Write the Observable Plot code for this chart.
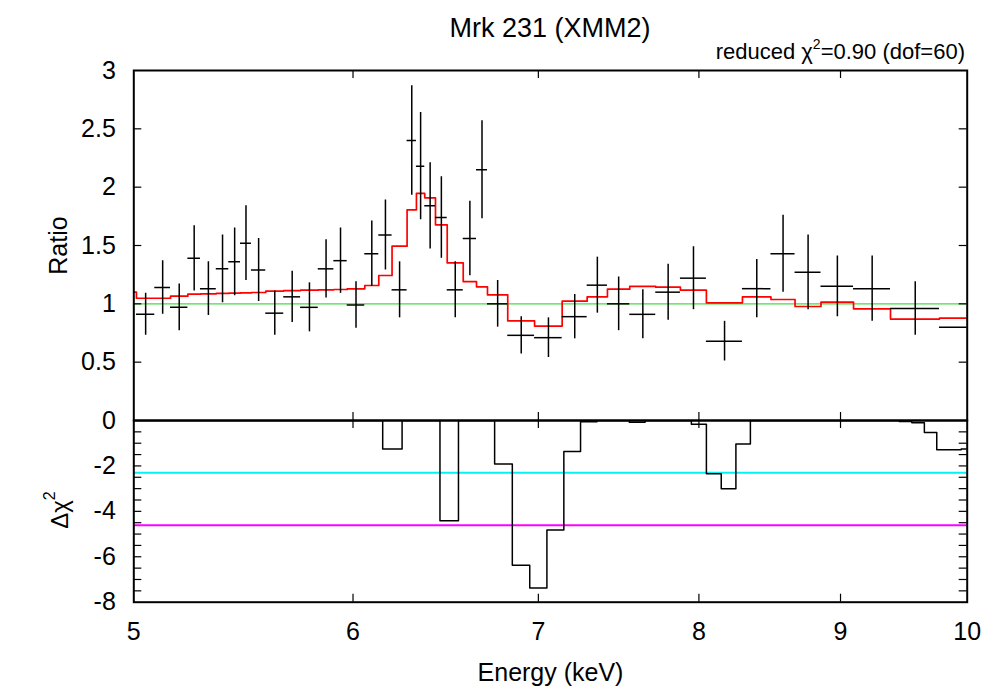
<!DOCTYPE html>
<html>
<head>
<meta charset="utf-8">
<script src="https://cdn.jsdelivr.net/npm/d3@7"></script>
<script src="https://cdn.jsdelivr.net/npm/@observablehq/plot@0.6"></script>
<style>
  body { margin: 0; background: #fff; }
  #wrap { position: relative; width: 1000px; height: 700px; overflow: hidden; background: #fff;
          font-family: "Liberation Sans", Arial, Helvetica, sans-serif; color: #000; }
  #wrap svg { position: absolute; left: 0; }
  #title { position: absolute; left: 0; width: 1100px; top: 14.5px; text-align: center;
           font-size: 27px; line-height: 27px; white-space: nowrap; }
  #chi { position: absolute; right: 35px; top: 41px; font-size: 22px; line-height: 22px; white-space: nowrap; }
  #chi sup { font-size: 14px; line-height: 0; vertical-align: 10px; }
  #dchiLabel sup { font-size: 16px; line-height: 0; vertical-align: 13px; }
  #dchiLabel { position: absolute; left: 20px; top: 498px; width: 80px; height: 24px;
               font-size: 24px; line-height: 24px; text-align: center; transform: rotate(-90deg); white-space: nowrap; }
</style>
</head>
<body>
<div id="wrap">
  <div id="title">Mrk 231 (XMM2)</div>
  <div id="chi">reduced χ<sup>2</sup>=0.90 (dof=60)</div>
  <div id="dchiLabel">Δχ<sup>2</sup></div>
</div>
<script>
// ---------- data ----------
// spectral bin edges (keV); bin 0 lies just below 5 keV (model only)
const binEdges = [4.97, 5.011, 5.088, 5.155, 5.230, 5.285, 5.355, 5.411, 5.464, 5.514, 5.580,
  5.664, 5.744, 5.829, 5.905, 5.971, 6.059, 6.130, 6.198, 6.276, 6.325, 6.369, 6.426, 6.489,
  6.576, 6.649, 6.710, 6.824, 6.978, 7.140, 7.290, 7.414, 7.553, 7.718, 7.878, 8.050, 8.295,
  8.494, 8.666, 8.855, 9.098, 9.382, 9.772, 10.30];
// data/model ratio per bin (null = no data point shown)
const ratio = [null, 0.91, 1.14, 0.97, 1.39, 1.13, 1.30, 1.36, 1.52, 1.29, 0.92, 1.06, 0.97,
  1.30, 1.37, 0.99, 1.43, 1.59, 1.12, 2.40, 2.18, 1.84, 1.74, 1.12, 1.56, 2.15, 1.00, 0.73,
  0.71, 0.89, 1.16, 1.00, 0.91, 1.10, 1.22, 0.68, 1.13, 1.43, 1.27, 1.15, 1.13, 0.96, 0.80];
const ratioErr = [null, 0.18, 0.23, 0.20, 0.28, 0.23, 0.29, 0.29, 0.32, 0.27, 0.19, 0.22, 0.21,
  0.25, 0.28, 0.20, 0.28, 0.30, 0.24, 0.47, 0.46, 0.37, 0.35, 0.24, 0.32, 0.42, 0.20, 0.16,
  0.17, 0.19, 0.24, 0.23, 0.21, 0.24, 0.27, 0.17, 0.25, 0.33, 0.32, 0.26, 0.28, 0.23, 0.20];
// model (line) ratio per bin
const model = [1.10, 1.048, 1.048, 1.066, 1.083, 1.086, 1.089, 1.091, 1.094, 1.097, 1.109, 1.114,
  1.117, 1.120, 1.123, 1.129, 1.157, 1.243, 1.494, 1.806, 1.946, 1.909, 1.677, 1.351, 1.191,
  1.146, 1.077, 0.854, 0.809, 1.023, 1.060, 1.126, 1.149, 1.143, 1.117, 1.009, 1.060, 1.037,
  0.977, 1.014, 0.957, 0.869, 0.877];

// delta chi-square scan (0.1 keV steps)
const scanE = [5.0, 5.1, 5.2, 5.3, 5.4, 5.5, 5.6, 5.7, 5.8, 5.9, 6.0, 6.1, 6.2, 6.3, 6.4, 6.5,
  6.6, 6.7, 6.8, 6.9, 7.0, 7.1, 7.2, 7.3, 7.4, 7.5, 7.6, 7.7, 7.8, 7.9, 8.0, 8.1, 8.2, 8.3, 8.4,
  8.5, 8.6, 8.7, 8.8, 8.9, 9.0, 9.1, 9.2, 9.3, 9.4, 9.5, 9.6, 9.7, 9.8, 9.9, 10.0];
const dchi = [0, 0, 0, 0, 0, 0, 0, 0, 0, 0, 0, 0, -1.25, 0, 0, -4.41, 0, 0, -1.92, -6.37, -7.37,
  -4.82, -1.37, -0.05, 0, 0, -0.08, 0, 0, 0, -0.17, -2.35, -3.01, -1.03, 0, 0, 0, 0, 0, 0, 0, 0,
  0, 0, 0, -0.04, -0.10, -0.53, -1.29, -1.29, -1.25];
const scanHalfStep = 0.05;
const confLevels = [-2.30, -4.61];          // 68% and 90% levels
const confColors = ["#00f4f4", "#ff00ff"];

// ticks
const energyTicks = [5, 6, 7, 8, 9, 10];
const energyInner = [6, 7, 8, 9];
const ratioTicks = [0, 0.5, 1, 1.5, 2, 2.5, 3];
const ratioInner = [0.5, 1, 1.5, 2, 2.5];
const dchiTicks = [-8, -6, -4, -2];
const dchiInner = [-7.5, -7, -6.5, -6, -5.5, -5, -4.5, -4, -3.5, -3, -2.5, -2, -1.5, -1, -0.5];

// ---------- derived tables ----------
const points = ratio.map((r, i) => ({
  lo: binEdges[i], hi: binEdges[i + 1], c: (binEdges[i] + binEdges[i + 1]) / 2, r, e: ratioErr[i]
})).filter(d => d.r != null);
const modelPts = binEdges.map((x, i) => ({x, y: model[Math.min(i, model.length - 1)]}));
const dchiPts = scanE.map((e, i) => ({x: e - scanHalfStep, y: dchi[i]}));
dchiPts.push({x: scanE[scanE.length - 1] + scanHalfStep, y: dchi[dchi.length - 1]});

// ---------- layout ----------
const FONT = '"Liberation Sans", Arial, Helvetica, sans-serif';
const W = 1000, ML = 133.3, MR = 33.3;
const FW = W - ML - MR;
const TOP_H = 420, TOP_MT = 70;
const TOP_FH = TOP_H - TOP_MT;
const BOT_H = 280, BOT_MB = 98.3;
const BOT_FH = BOT_H - BOT_MB;
const TICK = 8;
const style = {fontFamily: FONT, fontSize: "25px", background: "transparent", overflow: "visible", color: "black"};

const topPlot = Plot.plot({
  width: W, height: TOP_H,
  marginLeft: ML, marginRight: MR, marginTop: TOP_MT, marginBottom: 0,
  style,
  x: {type: "log", domain: [5, 10], axis: null},
  y: {domain: [0, 3]},
  marks: [
    Plot.ruleY([1], {stroke: "#44dd44", strokeWidth: 1.3}),
    Plot.line(modelPts, {x: "x", y: "y", curve: "step-after", stroke: "#ff0000", strokeWidth: 1.7, clip: true}),
    Plot.ruleY(points, {x1: "lo", x2: "hi", y: "r", stroke: "black", strokeWidth: 1.5, clip: true}),
    Plot.ruleX(points, {x: "c", y1: d => d.r - d.e, y2: d => d.r + d.e, stroke: "black", strokeWidth: 1.5, clip: true}),
    Plot.tickY(ratioInner, {y: d => d, insetRight: FW - TICK, stroke: "black", strokeWidth: 1.2}),
    Plot.tickY(ratioInner, {y: d => d, insetLeft: FW - TICK, stroke: "black", strokeWidth: 1.2}),
    Plot.tickX(energyInner, {x: d => d, insetBottom: TOP_FH - TICK, stroke: "black", strokeWidth: 1.2}),
    Plot.tickX(energyInner, {x: d => d, insetTop: TOP_FH - TICK, stroke: "black", strokeWidth: 1.2}),
    Plot.axisY({ticks: ratioTicks, tickSize: 0, tickPadding: 18, tickFormat: d => String(d),
      label: "Ratio", labelAnchor: "center", labelOffset: 85, labelArrow: "none"}),
    Plot.frame({stroke: "black", strokeWidth: 2})
  ]
});

const botPlot = Plot.plot({
  width: W, height: BOT_H,
  marginLeft: ML, marginRight: MR, marginTop: 0, marginBottom: BOT_MB,
  style,
  x: {type: "log", domain: [5, 10]},
  y: {domain: [-8, 0]},
  marks: [
    Plot.ruleY([confLevels[0]], {y: d => d, stroke: confColors[0], strokeWidth: 2}),
    Plot.ruleY([confLevels[1]], {y: d => d, stroke: confColors[1], strokeWidth: 2}),
    Plot.line(dchiPts, {x: "x", y: "y", curve: "step-after", stroke: "black", strokeWidth: 1.5, clip: true}),
    Plot.tickY(dchiInner, {y: d => d, insetRight: FW - TICK, stroke: "black", strokeWidth: 1.2}),
    Plot.tickY(dchiInner, {y: d => d, insetLeft: FW - TICK, stroke: "black", strokeWidth: 1.2}),
    Plot.tickX(energyInner, {x: d => d, insetBottom: BOT_FH - TICK, stroke: "black", strokeWidth: 1.2}),
    Plot.tickX(energyInner, {x: d => d, insetTop: BOT_FH - TICK, stroke: "black", strokeWidth: 1.2}),
    Plot.axisX({ticks: energyTicks, tickSize: 0, tickPadding: 20, tickFormat: d => String(d),
      label: "Energy (keV)", labelAnchor: "center", labelOffset: 79, labelArrow: "none"}),
    Plot.axisY({ticks: dchiTicks, tickSize: 0, tickPadding: 18, tickFormat: d => String(d), label: null}),
    Plot.frame({stroke: "black", strokeWidth: 2})
  ]
});

const wrap = document.getElementById("wrap");
topPlot.style.top = "0px";
botPlot.style.top = TOP_H + "px";
wrap.insertBefore(topPlot, wrap.firstChild);
wrap.insertBefore(botPlot, topPlot.nextSibling);
</script>
</body>
</html>
